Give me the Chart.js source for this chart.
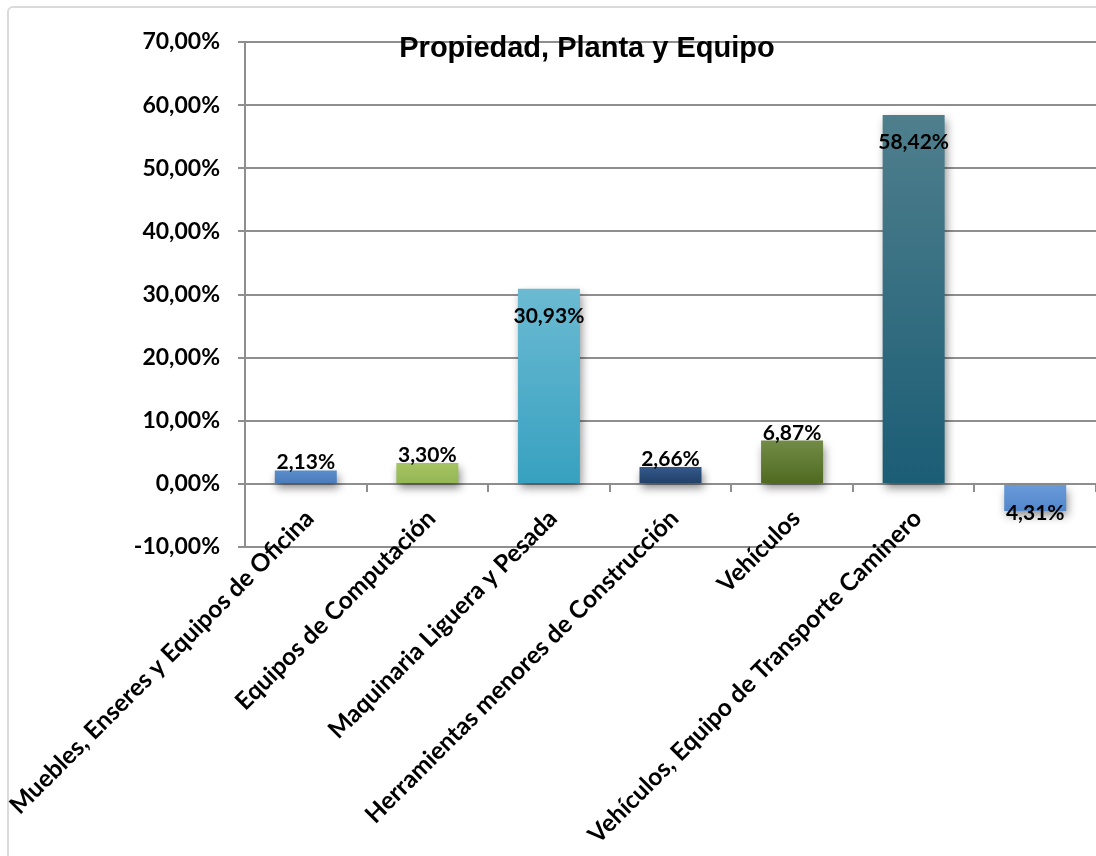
<!DOCTYPE html>
<html>
<head>
<meta charset="utf-8">
<title>Propiedad, Planta y Equipo</title>
<script src="https://cdn.jsdelivr.net/npm/chart.js@4.4.1/dist/chart.umd.min.js"></script>
<style>
  html, body { margin: 0; padding: 0; background: #fff; overflow: hidden; }
  .frame { position: absolute; left: 7px; top: 6px; width: 1300px; height: 1000px; border: 2px solid #dadada; border-radius: 6px; }
  .wrap { position: absolute; left: 0; top: 0; width: 1096px; height: 856px; }
</style>
</head>
<body>
<div class="frame"></div>
<div class="wrap"><canvas id="myChart" width="1096" height="856"></canvas></div>
<script>
// Categories and their share of the total (percent)
const categories = [
  "Muebles, Enseres y Equipos de Oficina",
  "Equipos de Computación",
  "Maquinaria Liguera y Pesada",
  "Herramientas menores de Construcción",
  "Vehículos",
  "Vehículos, Equipo de Transporte Caminero",
  ""
];
const shares = [2.13, 3.30, 30.93, 2.66, 6.87, 58.42, -4.31];
const yTicks = [-10, 0, 10, 20, 30, 40, 50, 60, 70];

// Bar colours, light at the top, darker at the base
const barTops = ["#5a8dcc", "#a5c463", "#6bbad2", "#34598a", "#728c48", "#4f7f8d", "#6b9bd8"];
const barBottoms = ["#4a7bbb", "#94b653", "#37a1c0", "#213f68", "#4f6a1f", "#1b5d75", "#5287cc"];

const gridGray = "#8e8e8e";
const chartdata = document.getElementById("myChart");

Chart.defaults.color = "#000";

const pct = (v) => v.toFixed(2).replace(".", ",") + "%";

// Vertical gradient for each bar, from its end to the zero line
function barFill(c) {
  const chart = c.chart;
  const y = chart.scales.y;
  const i = c.dataIndex;
  if (!y || i === undefined) return barBottoms[0];
  const top = y.getPixelForValue(Math.max(shares[i], 0));
  const bottom = y.getPixelForValue(Math.min(shares[i], 0));
  if (!isFinite(top) || !isFinite(bottom)) return barBottoms[i];
  const g = chart.ctx.createLinearGradient(0, top, 0, bottom);
  g.addColorStop(0, barTops[i]);
  g.addColorStop(1, barBottoms[i]);
  return g;
}

// Soft drop shadow under the bars
const barShadow = {
  id: "barShadow",
  beforeDatasetDraw(chart) {
    const ctx = chart.ctx;
    ctx.save();
    ctx.shadowColor = "rgba(0,0,0,0.45)";
    ctx.shadowBlur = 9;
    ctx.shadowOffsetX = 2;
    ctx.shadowOffsetY = 5;
  },
  afterDatasetDraw(chart) {
    chart.ctx.restore();
  }
};

// Value labels: inside the tall bars, on top of the short ones, under the negative one
const barValueLabels = {
  id: "barValueLabels",
  afterDatasetsDraw(chart) {
    const ctx = chart.ctx;
    const meta = chart.getDatasetMeta(0);
    ctx.save();
    ctx.font = "bold 21px Lato";
    ctx.fillStyle = "#000";
    ctx.textAlign = "center";
    ctx.textBaseline = "alphabetic";
    meta.data.forEach((bar, i) => {
      const v = shares[i];
      let y = bar.y - 1;
      if (v < 0) y = bar.y + 9;
      else if (v > 20) y = bar.y + 34;
      ctx.fillText(pct(Math.abs(v)), bar.x, y);
    });
    ctx.restore();
  }
};

// Title laid over the top of the plot
const overlayTitle = {
  id: "overlayTitle",
  afterDraw(chart) {
    const ctx = chart.ctx;
    ctx.save();
    ctx.font = "bold 29px 'Liberation Sans', Arial, sans-serif";
    ctx.fillStyle = "#000";
    ctx.textAlign = "center";
    ctx.textBaseline = "alphabetic";
    ctx.fillText("Propiedad, Planta y Equipo", 587, 57);
    ctx.restore();
  }
};

var myChart = new Chart(chartdata, {
  type: "bar",
  data: {
    labels: categories,
    datasets: [
      {
        label: "Propiedad, Planta y Equipo",
        data: shares,
        backgroundColor: barFill,
        borderWidth: 0,
        categoryPercentage: 1,
        barPercentage: 0.51,
      },
    ],
  },
  options: {
    responsive: false,
    animation: false,
    layout: { padding: { left: 0, top: 42, right: 0, bottom: 309 } },
    plugins: {
      legend: { display: false },
      title: { display: false },
      tooltip: { enabled: false },
    },
    scales: {
      x: {
        position: { y: 0 },
        grid: { drawOnChartArea: false, offset: true, color: gridGray, lineWidth: 2, tickLength: 7 },
        border: { color: gridGray, width: 2 },
        ticks: {
          autoSkip: false,
          minRotation: 45,
          maxRotation: 45,
          padding: 13,
          labelOffset: 4,
          font: { family: "Lato", weight: "bold", size: 24.5 },
        },
        afterFit(scale) {
          scale.paddingLeft = 0;
          scale.paddingRight = 0;
        },
      },
      y: {
        min: yTicks[0],
        max: yTicks[yTicks.length - 1],
        grid: { color: gridGray, lineWidth: 2, tickLength: 7 },
        border: { color: gridGray, width: 2 },
        ticks: {
          padding: 18,
          font: { family: "Lato", weight: "bold", size: 23 },
          callback: (v) => pct(v),
        },
        afterBuildTicks(scale) {
          scale.ticks = yTicks.map((v) => ({ value: v }));
        },
        afterFit(scale) {
          scale.width = 245;
        },
      },
    },
  },
  plugins: [barShadow, barValueLabels, overlayTitle],
});
</script>
</body>
</html>
